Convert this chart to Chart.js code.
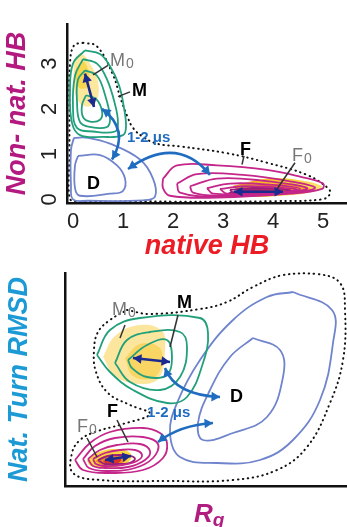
<!DOCTYPE html>
<html>
<head>
<meta charset="utf-8">
<script src="https://cdn.jsdelivr.net/npm/chart.js@4.4.1/dist/chart.umd.min.js"></script>
<style>
  html, body { margin: 0; padding: 0; background: #fff; }
  #wrap { position: relative; width: 347px; height: 527px; }
  canvas { position: absolute; left: 0; }
  #top { top: 0; }
  #bottom { top: 260px; }
</style>
</head>
<body>
<div id="wrap">
  <canvas id="top" width="347" height="260"></canvas>
  <canvas id="bottom" width="347" height="267"></canvas>
</div>
<script>
// ---------- top panel: native HB vs non-native HB ----------
const topXTicks = [0, 1, 2, 3, 4, 5];
const topYTicks = [0, 1, 2, 3];

const topDotted = [[0.2,3.46],[0.48,3.38],[0.8,2.75],[0.94,2.27],[1.08,1.85],[1.2,1.58],[1.4,1.38],[1.68,1.23],[2.14,1.17],[3.08,1.02],[3.88,0.81],[4.68,0.54],[5.1,0.25],[5.14,0.12],[4.98,0.0],[4.0,-0.04],[3.0,-0.05],[2.0,-0.05],[1.2,-0.04],[0.4,-0.05],[-0.06,0.0],[-0.07,1.0],[-0.07,2.0],[-0.06,3.0],[0.02,3.4]];

const topM1 = [[0.24,3.29],[0.54,3.21],[0.74,2.94],[0.92,2.52],[1.02,2.02],[1.06,1.6],[1.0,1.42],[0.6,1.38],[0.14,1.42],[-0.02,1.69],[-0.06,2.38],[0.0,3.0]];
const topM2 = [[0.2,3.1],[0.48,3.0],[0.68,2.65],[0.84,2.1],[0.9,1.69],[0.84,1.5],[0.4,1.5],[0.08,1.58],[0.0,2.02],[0.04,2.73]];
const topM3 = [[0.24,2.85],[0.48,2.73],[0.64,2.31],[0.74,1.81],[0.68,1.6],[0.34,1.6],[0.14,1.71],[0.08,2.17],[0.1,2.65]];
const topM4 = [[0.26,2.3],[0.46,2.22],[0.58,1.95],[0.54,1.76],[0.34,1.72],[0.2,1.82],[0.18,2.08]];
const topMPale = [[0.02,3.1],[0.16,3.22],[0.34,3.0],[0.5,2.6],[0.48,2.2],[0.3,2.05],[0.12,2.15],[0.02,2.5]];
const topMCore = [[0.06,2.9],[0.2,3.05],[0.32,2.8],[0.3,2.5],[0.15,2.45],[0.06,2.6]];

const topD1 = [[0.02,1.36],[0.3,1.36],[0.74,1.23],[1.34,0.88],[1.6,0.46],[1.64,0.06],[1.4,-0.02],[0.3,-0.03],[0.0,0.0],[-0.04,0.3],[-0.04,1.1]];
const topD2 = [[0.1,0.96],[0.54,0.98],[0.88,0.75],[1.04,0.46],[1.0,0.19],[0.74,0.125],[0.14,0.08],[0.04,0.25],[0.04,0.75]];

const topF1 = [[1.8,0.46],[2.08,0.75],[2.88,0.75],[3.88,0.65],[4.54,0.5],[5.0,0.35],[4.98,0.23],[4.34,0.125],[2.88,0.04],[1.94,0.08],[1.8,0.25]];
const topF2 = [[2.08,0.35],[2.48,0.56],[3.4,0.54],[4.34,0.4],[4.84,0.25],[4.2,0.125],[2.88,0.06],[2.14,0.15]];
const topF3 = [[2.34,0.29],[2.88,0.46],[3.74,0.42],[4.68,0.25],[4.08,0.125],[2.88,0.08],[2.4,0.15]];
const topF4 = [[2.68,0.25],[3.14,0.35],[3.88,0.33],[4.54,0.23],[3.88,0.125],[2.8,0.125]];
const topF5 = [[2.94,0.23],[3.4,0.29],[4.0,0.27],[4.48,0.21],[3.8,0.125],[3.08,0.125]];
const topF6 = [[3.14,0.21],[3.54,0.25],[4.14,0.23],[4.34,0.19],[3.74,0.125],[3.2,0.15]];
const topFYellow = [[3.2,0.3],[3.9,0.46],[4.5,0.43],[4.97,0.3],[4.92,0.2],[4.3,0.09],[3.4,0.09]];
const topFOrange = [[3.3,0.2],[4.0,0.34],[4.5,0.31],[4.75,0.22],[4.2,0.11],[3.4,0.11]];
const topFCore = [[3.1,0.15],[3.6,0.26],[4.2,0.25],[4.4,0.18],[3.8,0.1],[3.25,0.1]];

// labels: [x, y, text, subscript, kind]
const topLabels = [[0.74,3.06,'M','0','state'],[1.18,2.4,'M','','name'],[1.08,1.36,'1-2 \u03bcs','','time'],[3.34,1.08,'F','','name'],[4.38,0.96,'F','0','state'],[0.28,0.35,'D','','name']];
const topLeaders = [[0.4,2.75,0.7,2.96],[0.9,2.27,1.14,2.375],[3.38,0.77,3.42,0.96],[4.08,0.23,4.44,0.81]];
const topNavy = [[0.24,2.78,0.42,2.04],[3.22,0.17,4.2,0.17]];
const topCurved = [[0.58,2.0,1.14,1.54,0.78,0.88],[1.1,0.67,2.08,1.44,2.74,0.54]];

// ---------- bottom panel: Rg vs native turn RMSD (arbitrary units) ----------
const botDotted = [[62,176],[85,172],[135,177],[162,184],[188,199],[218,211],[252,212],[275,203],[280,176],[278,126],[265,83],[242,39],[212,16],[168,6],[102,5],[35,6],[8,13],[7,33],[15,46],[30,54],[58,62],[85,72],[65,81],[43,93],[31,114],[29,136],[33,154],[45,166]];

const botM1 = [[32,131],[45,156],[75,168],[135,168],[143,153],[138,123],[122,89],[102,83],[68,96],[45,114]];
const botM2 = [[50,123],[62,146],[85,154],[115,154],[122,139],[115,109],[95,96],[65,104]];
const botM3 = [[63,126],[82,141],[102,146],[107,128],[102,111],[82,109],[67,118]];
const botMPale = [[38,129],[50,150],[75,161],[97,155],[100,136],[94,108],[75,102],[50,110]];
const botMCore = [[60,128],[75,142],[94,139],[97,122],[88,108],[68,110]];

const botD1 = [[228,194],[267,176],[268,143],[255,86],[228,46],[195,26],[152,23],[115,29],[105,53],[112,83],[135,126],[168,166],[202,189]];
const botD2 = [[188,148],[215,136],[218,109],[202,69],[168,53],[138,46],[133,63],[145,96],[165,129]];

const botF1 = [[10,26],[25,43],[45,54],[78,58],[95,53],[102,43],[98,28],[78,16],[45,13],[18,16]];
const botF2 = [[18,27],[30,40],[50,48],[78,49],[93,42],[88,28],[70,18],[42,15],[24,18]];
const botF3 = [[23,27],[35,36],[52,41],[75,42],[85,35],[80,26],[63,19],[40,18],[28,20]];
const botF4 = [[28,27],[40,33],[55,36],[70,36],[77,31],[72,25],[58,21],[40,20],[31,22]];
const botF5 = [[33,26],[43,30],[55,31],[66,30],[70,27],[64,23],[52,22],[40,22]];
const botFYellow = [[22,25],[32,33],[50,37],[64,34],[66,27],[55,20],[38,18],[26,20]];
const botFOrange = [[30,25],[42,31],[56,31],[62,27],[54,22],[38,21]];
const botFCore = [[38,25],[47,28],[56,27],[53,23],[42,22]];

const botLabels = [[47,176,'M','0','state'],[112,183,'M','','name'],[165,89,'D','','name'],[42,74,'F','','name'],[12,59,'F','0','state'],[82,73,'1-2 \u03bcs','','time']];
const botLeaders = [[55,148,60,161],[105,139,113,171],[63,44,52,66],[32,29,22,48]];
const botNavy = [[68,128,105,124],[40,26,66,30]];
const botCurved = [[100,118,110,91,155,89],[93,44,115,61,148,63]];

// ---------- colours ----------
const GREEN = '#22a07c';
const BLUE = '#6f84cc';
const MAGENTA = '#c4268a';
const NAVY = '#1b2a8f';
const ARROW = '#1f6cc0';

Chart.defaults.font.family = '"Liberation Sans", Arial, sans-serif';

const loop = a => [...a, a[0]].map(([x, y]) => ({x, y}));

function contour(data, color, width) {
  return { data: loop(data), showLine: true, borderColor: color, borderWidth: width || 1.8,
           pointRadius: 0, tension: 0.4, fill: false, order: 1, clip: false };
}
function dotted(data) {
  return { data: loop(data), showLine: true, borderColor: '#111', borderWidth: 2,
           borderDash: [0.5, 4.5], borderCapStyle: 'round', pointRadius: 0, tension: 0.4,
           fill: false, order: 2, clip: false };
}
function patch(data, color, ord) {
  return { data: loop(data), showLine: true, borderWidth: 0, borderColor: 'rgba(0,0,0,0)',
           backgroundColor: color, pointRadius: 0, tension: 0.4, fill: 'shape', order: ord || 6, clip: false };
}
// horizontal gradient between two x values (data units)
function hGrad(x0, x1, stops) {
  return c => {
    const chart = c.chart;
    if (!chart.chartArea) return stops[0][1];
    const sx = chart.scales.x;
    const g = chart.ctx.createLinearGradient(sx.getPixelForValue(x0), 0, sx.getPixelForValue(x1), 0);
    stops.forEach(([o, col]) => g.addColorStop(o, col));
    return g;
  };
}

function arrowHead(ctx, tx, ty, fx, fy, color) {
  const a = Math.atan2(ty - fy, tx - fx);
  const L = 8.5, W = 4.8;
  ctx.fillStyle = color;
  ctx.beginPath();
  ctx.moveTo(tx, ty);
  ctx.lineTo(tx - L * Math.cos(a) + W * Math.sin(a), ty - L * Math.sin(a) - W * Math.cos(a));
  ctx.lineTo(tx - L * Math.cos(a) - W * Math.sin(a), ty - L * Math.sin(a) + W * Math.cos(a));
  ctx.closePath();
  ctx.fill();
}

function overlay(labels, leaders, navy, curved, rg) {
  return {
    id: 'overlay',
    afterDatasetsDraw(chart) {
      const {ctx, scales: {x, y}} = chart;
      const px = v => x.getPixelForValue(v), py = v => y.getPixelForValue(v);
      ctx.save();
      ctx.lineCap = 'butt';
      // leader lines
      ctx.strokeStyle = '#333';
      ctx.lineWidth = 1.5;
      leaders.forEach(([x1, y1, x2, y2]) => {
        ctx.beginPath(); ctx.moveTo(px(x1), py(y1)); ctx.lineTo(px(x2), py(y2)); ctx.stroke();
      });
      // curved transition arrows
      curved.forEach(([x1, y1, cx, cy, x2, y2]) => {
        const p0 = [px(x1), py(y1)], c = [px(cx), py(cy)], p2 = [px(x2), py(y2)];
        ctx.strokeStyle = ARROW; ctx.lineWidth = 2.6;
        ctx.beginPath(); ctx.moveTo(p0[0], p0[1]); ctx.quadraticCurveTo(c[0], c[1], p2[0], p2[1]); ctx.stroke();
        arrowHead(ctx, p0[0], p0[1], c[0], c[1], ARROW);
        arrowHead(ctx, p2[0], p2[1], c[0], c[1], ARROW);
      });
      // straight double arrows
      navy.forEach(([x1, y1, x2, y2]) => {
        const a = [px(x1), py(y1)], b = [px(x2), py(y2)];
        ctx.strokeStyle = NAVY; ctx.lineWidth = 2.6;
        ctx.beginPath(); ctx.moveTo(a[0], a[1]); ctx.lineTo(b[0], b[1]); ctx.stroke();
        arrowHead(ctx, a[0], a[1], b[0], b[1], NAVY);
        arrowHead(ctx, b[0], b[1], a[0], a[1], NAVY);
      });
      // state labels
      ctx.textBaseline = 'middle';
      ctx.textAlign = 'left';
      labels.forEach(([lx, ly, text, sub, kind]) => {
        const X = px(lx), Y = py(ly);
        let font = 'bold 18px "Liberation Sans", Arial, sans-serif', col = '#000';
        if (kind === 'state') { font = '18px "Liberation Sans", Arial, sans-serif'; col = '#777'; }
        if (kind === 'time') { font = 'bold 15px "Liberation Sans", Arial, sans-serif'; col = ARROW; }
        ctx.font = font; ctx.fillStyle = col;
        ctx.fillText(text, X, Y);
        if (sub) {
          const w = ctx.measureText(text).width;
          ctx.font = '14px "Liberation Sans", Arial, sans-serif';
          ctx.fillText(sub, X + w + 1, Y + 3);
        }
      });
      ctx.restore();
    },
    afterDraw(chart) {
      if (!rg) return;
      const {ctx, chartArea} = chart;
      const cx = (chartArea.left + chartArea.right) / 2;
      ctx.save();
      ctx.fillStyle = '#b01c80';
      ctx.textBaseline = 'alphabetic';
      ctx.textAlign = 'left';
      ctx.font = 'italic bold 26px "Liberation Sans", Arial, sans-serif';
      const w = ctx.measureText('R').width;
      ctx.fillText('R', cx - 12, chart.height - 5);
      ctx.font = 'italic bold 19px "Liberation Sans", Arial, sans-serif';
      ctx.fillText('g', cx - 12 + w, chart.height - 1);
      ctx.restore();
    }
  };
}

const hiddenTicks = { display: false };
const axisBorder = { display: true, color: '#111', width: 2.5 };
const titleFont = { size: 27, weight: 'bold', style: 'italic', lineHeight: 1 };

// ---------- top chart ----------
new Chart(document.getElementById('top'), {
  type: 'scatter',
  data: {
    datasets: [
      patch(topMPale, 'rgba(252,228,140,0.85)'),
      patch(topMCore, 'rgba(249,210,60,0.8)', 5),
      patch(topFYellow, hGrad(3.2, 5.0, [[0, '#f6a21e'], [0.6, '#fbcf2f'], [1, '#fde57a']])),
      patch(topFOrange, hGrad(3.3, 4.75, [[0, '#d8432f'], [0.5, '#f07a22'], [1, '#f9b52a']]), 5),
      patch(topFCore, hGrad(3.1, 4.4, [[0, '#8e1f7c'], [0.5, '#b51f6b'], [1, '#e0452f']]), 4),
      dotted(topDotted),
      contour(topM1, GREEN), contour(topM2, GREEN), contour(topM3, GREEN), contour(topM4, GREEN),
      contour(topD1, BLUE), contour(topD2, BLUE),
      contour(topF1, MAGENTA), contour(topF2, MAGENTA), contour(topF3, MAGENTA),
      contour(topF4, MAGENTA), contour(topF5, MAGENTA), contour(topF6, '#9a1f7a')
    ]
  },
  options: {
    responsive: false, animation: false, devicePixelRatio: 1,
    layout: { padding: { top: 13, left: 0, right: 0, bottom: 0 } },
    plugins: { legend: { display: false }, tooltip: { enabled: false } },
    scales: {
      x: {
        type: 'linear', min: -0.12, max: 5.48,
        grid: { display: false, drawTicks: false }, border: axisBorder,
        afterBuildTicks: a => { a.ticks = topXTicks.map(v => ({ value: v })); },
        afterFit: a => { a.height = 57; },
        ticks: { color: '#222', font: { size: 22 }, padding: 6, maxRotation: 0 },
        title: { display: true, text: 'native HB', color: '#ec1c24', font: titleFont, padding: { top: 0, bottom: 0 } }
      },
      y: {
        type: 'linear', min: -0.08, max: 3.87,
        grid: { display: false, drawTicks: false }, border: axisBorder,
        afterBuildTicks: a => { a.ticks = topYTicks.map(v => ({ value: v })); },
        afterFit: a => { a.width = 67; },
        ticks: { color: '#222', font: { size: 22 }, padding: 11, minRotation: 90, maxRotation: 90, crossAlign: 'center' },
        title: { display: true, text: 'Non- nat. HB', color: '#b3197f', font: titleFont, padding: { top: 4, bottom: 0 } }
      }
    }
  },
  plugins: [overlay(topLabels, topLeaders, topNavy, topCurved, false)]
});

// ---------- bottom chart ----------
new Chart(document.getElementById('bottom'), {
  type: 'scatter',
  data: {
    datasets: [
      patch(botMPale, 'rgba(252,226,140,0.85)'),
      patch(botMCore, 'rgba(248,208,80,0.75)', 5),
      patch(botFYellow, '#fbd640'),
      patch(botFOrange, '#f38a22', 5),
      patch(botFCore, '#d9342c', 4),
      dotted(botDotted),
      contour(botM1, GREEN), contour(botM2, GREEN), contour(botM3, GREEN),
      contour(botD1, BLUE), contour(botD2, BLUE),
      contour(botF1, MAGENTA), contour(botF2, MAGENTA), contour(botF3, MAGENTA),
      contour(botF4, MAGENTA), contour(botF5, '#9a1f7a')
    ]
  },
  options: {
    responsive: false, animation: false, devicePixelRatio: 1,
    layout: { padding: { top: 13, left: 0, right: 0, bottom: 0 } },
    plugins: { legend: { display: false }, tooltip: { enabled: false } },
    scales: {
      x: {
        type: 'linear', min: 0, max: 282,
        grid: { display: false, drawTicks: false }, border: axisBorder,
        ticks: hiddenTicks,
        afterFit: a => { a.height = 41; }
      },
      y: {
        type: 'linear', min: 0, max: 213,
        grid: { display: false, drawTicks: false }, border: axisBorder,
        ticks: hiddenTicks,
        afterFit: a => { a.width = 65; },
        title: { display: true, text: 'Nat. Turn RMSD', color: '#1c9ad6', font: titleFont, padding: { top: 6, bottom: 0 } }
      }
    }
  },
  plugins: [overlay(botLabels, botLeaders, botNavy, botCurved, true)]
});
</script>
</body>
</html>
